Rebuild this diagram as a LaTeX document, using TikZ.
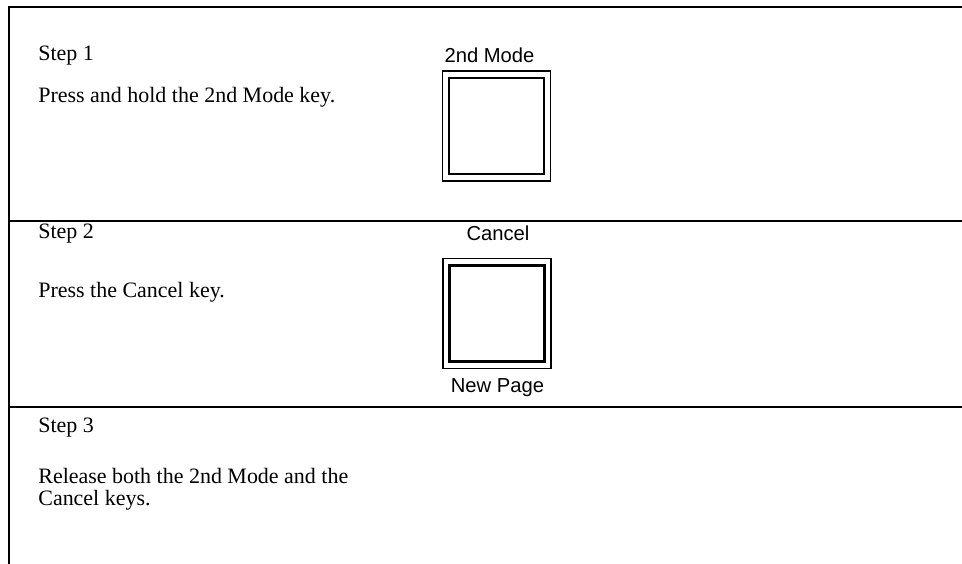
\documentclass[tikz,border=0pt]{standalone}
\usepackage{fontspec}
\setmainfont{Liberation Serif}
\newfontfamily\keyfont{Liberation Sans}
\begin{document}
\begin{tikzpicture}[
  steptext/.style={anchor=base west, inner sep=0pt, align=left, font=\fontsize{12.5}{12}\selectfont},
  keyname/.style={anchor=base, inner sep=0pt, font=\keyfont\fontsize{11.5}{12}\selectfont},
  keyouter/.style={draw, line width=0.8pt, minimum width=2.16cm, minimum height=2.2cm, inner sep=0pt},
  keyinner/.style={draw, line width=1.4pt, minimum width=1.9cm, minimum height=1.92cm, inner sep=0pt},
  rule/.style={line width=1.1pt}
]
\useasboundingbox (0,0) rectangle (19.24,-11.28);
% frame and row rules
\coordinate (tl) at (0.18,-0.14);
\coordinate (tr) at (19.24,-0.14);
\coordinate (bl) at (0.18,-11.28);
\coordinate (r1l) at (0.18,-4.42);
\coordinate (r1r) at (19.24,-4.42);
\coordinate (r2l) at (0.18,-8.14);
\coordinate (r2r) at (19.24,-8.14);
\draw[rule] (tr) -- (tl) -- (bl);
\draw[rule] (r1l) -- (r1r);
\draw[rule] (r2l) -- (r2r);
% step 1
\node[steptext] (s1) at (0.76,-1.20) {Step 1};
\node[steptext] (t1) at (0.76,-2.04) {Press and hold the 2nd Mode key.};
\node[keyouter] (k1) at (9.93,-2.52) {};
\node[keyinner] (k1i) at (k1.center) {};
\node[keyname] (k1top) at (9.79,-1.24) {2nd Mode};
% step 2
\node[steptext] (s2) at (0.76,-4.76) {Step 2};
\node[steptext] (t2) at (0.76,-5.94) {Press the Cancel key.};
\node[keyouter] (k2) at (9.94,-6.27) {};
\node[keyinner] (k2i) at (k2.center) {};
\node[keyname] (k2top) at (9.96,-4.80) {Cancel};
\node[keyname] (k2bot) at (9.95,-7.84) {New Page};
% step 3 (base is the last line)
\node[steptext] (s3) at (0.76,-8.64) {Step 3};
\node[steptext] (t3) at (0.76,-10.10) {Release both the 2nd Mode and the\\Cancel keys.};
\end{tikzpicture}
\end{document}
